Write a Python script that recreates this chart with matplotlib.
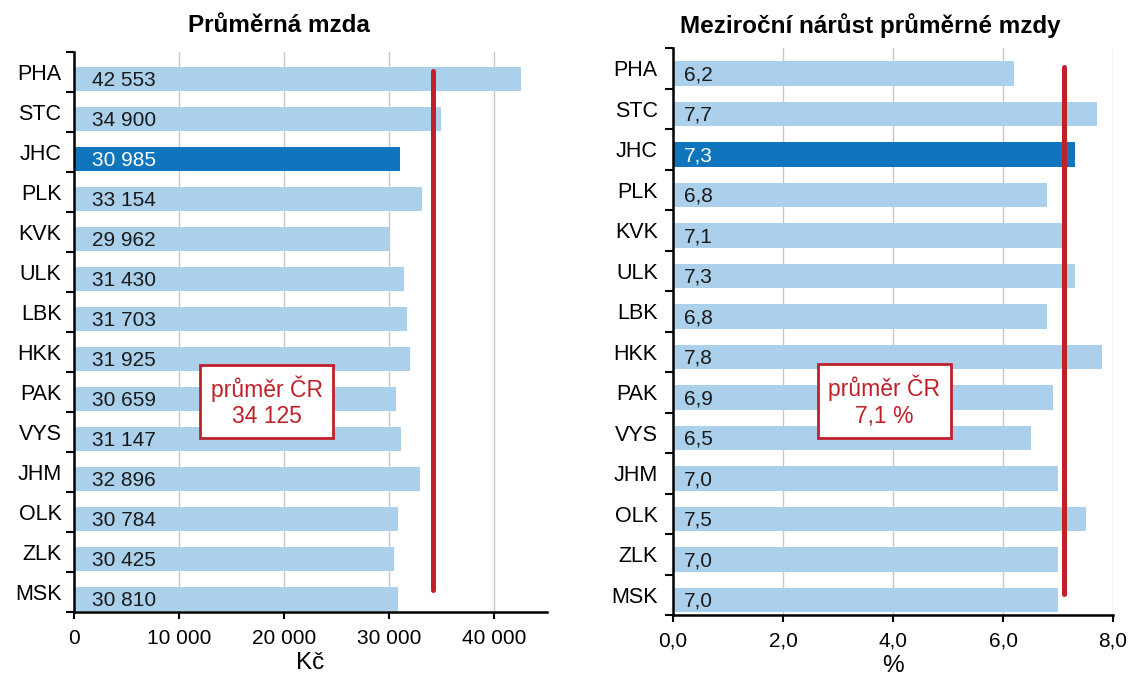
import matplotlib
matplotlib.use("Agg")
import matplotlib.pyplot as plt
from matplotlib.ticker import FuncFormatter, FixedLocator

plt.rcParams['font.family'] = ['Liberation Sans', 'DejaVu Sans']

regions = ["PHA", "STC", "JHC", "PLK", "KVK", "ULK", "LBK", "HKK", "PAK", "VYS", "JHM", "OLK", "ZLK", "MSK"]
wage = [42553, 34900, 30985, 33154, 29962, 31430, 31703, 31925, 30659, 31147, 32896, 30784, 30425, 30810]
growth = [6.2, 7.7, 7.3, 6.8, 7.1, 7.3, 6.8, 7.8, 6.9, 6.5, 7.0, 7.5, 7.0, 7.0]
avg_wage = 34125
avg_growth = 7.1
highlight = "JHC"

title_left = "Průměrná mzda"
title_right = "Meziroční nárůst průměrné mzdy"
xlabel_left = "Kč"
xlabel_right = "%"
box_left = "průměr ČR\n34 125"
box_right = "průměr ČR\n7,1 %"

LIGHT = "#ABD0EB"
DARK = "#0F76BE"
RED = "#C0202A"
GRID = "#C8C8C8"

fig = plt.figure(figsize=(11.29, 6.8), dpi=100)
axL = fig.add_axes([74/1129, 1-612/680, 473/1129, 560/680])
axR = fig.add_axes([673/1129, 1-615/680, 440/1129, 567/680])

def thousands(v, pos=None):
    return f"{int(round(v)):,}".replace(",", " ")

def comma1(v, pos=None):
    return f"{v:.1f}".replace(".", ",")

def setup(ax, vals, fmt_bar, xlim, xticks, fmt_tick, avg, line_y, xlabel, text_x, off, ypad):
    n = len(regions)
    ys = [i + off for i in range(n)]
    colors = [DARK if r == highlight else LIGHT for r in regions]
    ax.barh(ys, vals, height=0.6, color=colors, zorder=2)
    for y, v, r in zip(ys, vals, regions):
        ax.text(text_x, y + 0.03, fmt_bar(v), va='center', ha='left', fontsize=15,
                color='white' if r == highlight else '#1a1a1a', zorder=3)
    ax.set_ylim(n - 0.5, -0.5)
    ax.set_xlim(*xlim)
    ax.yaxis.set_major_locator(FixedLocator(range(n)))
    ax.set_yticklabels(regions, fontsize=15.5)
    ax.yaxis.set_minor_locator(FixedLocator([i - 0.5 for i in range(n + 1)]))
    ax.tick_params(axis='y', which='major', length=0, pad=ypad)
    ax.tick_params(axis='y', which='minor', length=6, width=1.5, color='black', direction='out')
    ax.set_xticks(xticks)
    ax.xaxis.set_major_formatter(FuncFormatter(fmt_tick))
    ax.tick_params(axis='x', length=5, width=1.5, labelsize=15, pad=7)
    ax.grid(axis='x', color=GRID, linewidth=1, zorder=0)
    ax.set_axisbelow(True)
    for s in ['top', 'right']:
        ax.spines[s].set_visible(False)
    for s in ['left', 'bottom']:
        ax.spines[s].set_linewidth(1.8)
        ax.spines[s].set_color('black')
    ax.plot([avg, avg], line_y, color=RED, linewidth=3.6, solid_capstyle='round', zorder=4)
    ax.set_xlabel(xlabel, fontsize=17.5, labelpad=3)

setup(axL, wage, thousands, (0, 45000), [0, 10000, 20000, 30000, 40000], thousands,
      avg_wage, [-0.03, 12.95], xlabel_left, 1700, 0.17, 9)
setup(axR, growth, comma1, (0, 8.0), [0, 2, 4, 6, 8], comma1,
      avg_growth, [-0.03, 12.97], xlabel_right, 0.2, 0.13, 11)

bbox = dict(boxstyle='square,pad=0.45', facecolor='white', edgecolor=RED, linewidth=2)
axL.text(18330, 8.24, box_left, ha='center', va='center', fontsize=16.5, color=RED,
         linespacing=1.2, bbox=bbox, zorder=5)
axR.text(3.84, 8.22, box_right, ha='center', va='center', fontsize=16.5, color=RED,
         linespacing=1.2, bbox=bbox, zorder=5)

fig.text(279/1129, 1-26/680, title_left, ha='center', va='center', fontsize=17.5, fontweight='bold')
fig.text(870/1129, 1-26/680, title_right, ha='center', va='center', fontsize=17.5, fontweight='bold')

fig.savefig("out.png", dpi=100)
